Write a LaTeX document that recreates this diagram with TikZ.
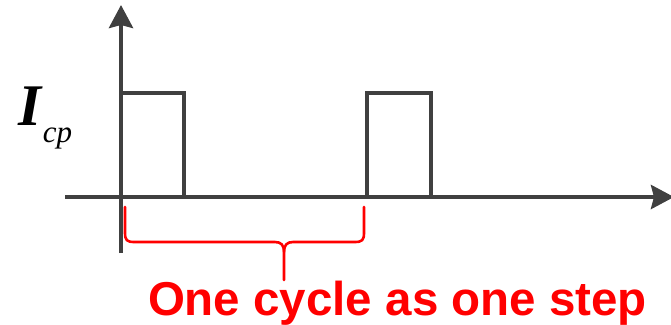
\documentclass[tikz,border=0pt]{standalone}
\usepackage{fontspec}
\setmainfont{Liberation Serif}
\newfontfamily\labelsans{Liberation Sans}
\usetikzlibrary{arrows.meta}
\definecolor{axisgray}{HTML}{404040}
\definecolor{bracered}{HTML}{FF0000}
\begin{document}
\begin{tikzpicture}[x=1pt,y=-1pt,
  axisline/.style={draw=axisgray,line width=4.2pt,
    -{Stealth[length=23pt,width=24pt,inset=3pt]}},
  pulse/.style={draw=axisgray,line width=4.2pt,line join=miter},
  bracket/.style={draw=bracered,line width=2.6pt,line cap=round},
  caption/.style={text=bracered,font=\labelsans\bfseries\fontsize{47.5}{50}\selectfont,inner sep=0pt}]
\useasboundingbox (0,0) rectangle (671,324);
\begin{scope}
\clip (0,0) rectangle (671,324);
% axes
\coordinate (origin) at (121,197);
\coordinate (ybot) at (121,253);
\coordinate (ytop) at (121,5);
\coordinate (xleft) at (65,197);
\coordinate (xright) at (674,197);
\draw[axisline] (xleft) -- (xright);
\draw[axisline] (ybot) -- (ytop);
% current pulses
\draw[pulse] (121,93) -- (184,93) -- (184,197);
\draw[pulse] (367,197) -- (367,93) -- (431,93) -- (431,197);
\end{scope}
% brace spanning one cycle
\coordinate (bl) at (125,207);
\coordinate (br) at (364,207);
\coordinate (btip) at (284,280);
\draw[bracket] (bl) -- (125,233) .. controls (125,240) and (127,242) .. (134,242)
  -- (275,242) .. controls (281,242) and (284,245) .. (284,252) -- (btip);
\draw[bracket] (br) -- (364,233) .. controls (364,240) and (362,242) .. (355,242)
  -- (293,242) .. controls (287,242) and (284,245) .. (284,252);
% labels
\node[anchor=base west,inner sep=0pt,font=\fontsize{59}{59}\selectfont] (ilabel) at (18,125)
  {\textbf{\textit{I}}\raisebox{-17pt}{\fontsize{31}{31}\selectfont\textit{cp}}};
\node[caption,anchor=base] (cap) at (397.5,315) {One cycle as one step};
\end{tikzpicture}
\end{document}
